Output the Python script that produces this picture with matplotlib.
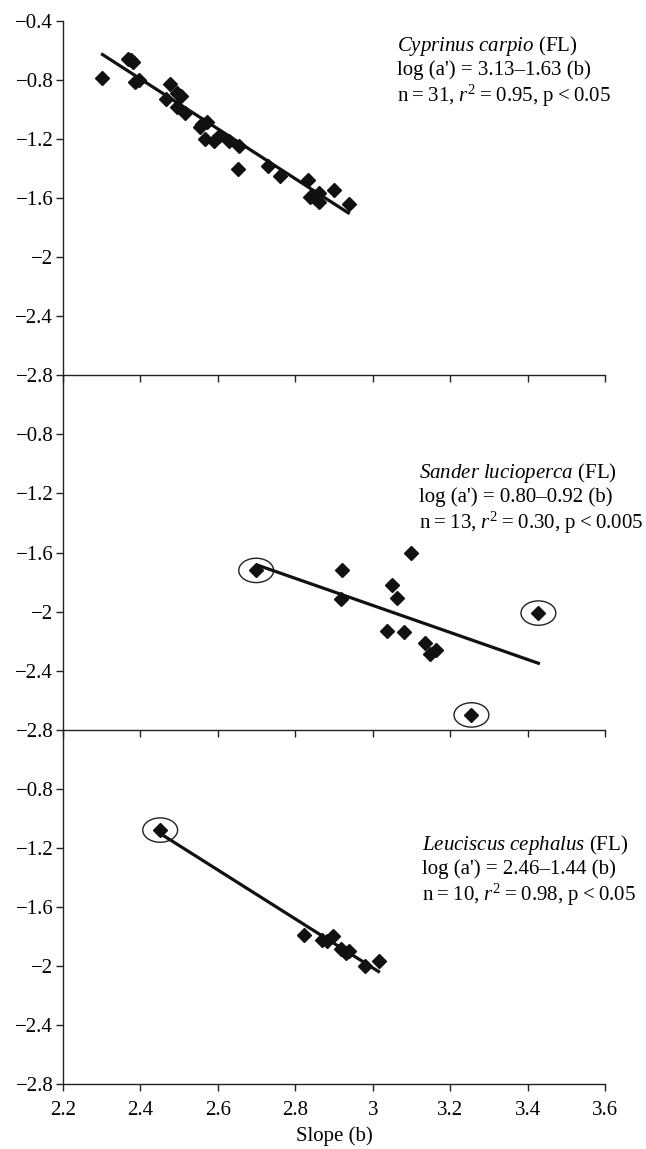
import matplotlib
matplotlib.use('Agg')
import matplotlib.pyplot as plt
from matplotlib.patches import Ellipse

plt.rcParams['font.family'] = ['Liberation Serif', 'DejaVu Serif']
plt.rcParams['mathtext.fontset'] = 'custom'
plt.rcParams['mathtext.rm'] = 'Liberation Serif'
plt.rcParams['mathtext.it'] = 'Liberation Serif:italic'

# Cyprinus carpio
carp_b = [2.302, 2.367, 2.375, 2.381, 2.385, 2.397, 2.467, 2.476, 2.495, 2.504,
          2.495, 2.515, 2.554, 2.560, 2.571, 2.566, 2.590, 2.603, 2.628, 2.654,
          2.652, 2.730, 2.760, 2.834, 2.839, 2.851, 2.860, 2.860, 2.900, 2.939,
          2.845]
carp_a = [-0.786, -0.655, -0.666, -0.677, -0.814, -0.798, -0.927, -0.825, -0.889, -0.905,
          -0.980, -1.025, -1.120, -1.100, -1.086, -1.200, -1.210, -1.180, -1.210, -1.250,
          -1.400, -1.380, -1.450, -1.480, -1.590, -1.600, -1.565, -1.627, -1.545, -1.643,
          -1.585]
carp_fit_b = [2.302, 2.937]
carp_fit_a = [-0.627, -1.700]
carp_circled = []

# Sander lucioperca
zander_b = [2.699, 2.920, 2.917, 3.050, 3.064, 3.100, 3.037, 3.082, 3.136, 3.147,
            3.163, 3.428, 3.255]
zander_a = [-1.721, -1.720, -1.916, -1.820, -1.905, -1.602, -2.130, -2.140, -2.210, -2.290,
            -2.260, -2.010, -2.700]
zander_fit_b = [2.702, 3.428]
zander_fit_a = [-1.685, -2.350]
zander_circled = [0, 11, 12]

# Leuciscus cephalus
chub_b = [2.451, 2.822, 2.868, 2.882, 2.898, 2.918, 2.930, 2.938, 2.980, 3.015]
chub_a = [-1.080, -1.791, -1.823, -1.834, -1.800, -1.886, -1.914, -1.900, -2.000, -1.970]
chub_fit_b = [2.446, 3.015]
chub_fit_a = [-1.095, -2.038]
chub_circled = [0]

labels = [
    [r'$\it{Cyprinus\ carpio}$ (FL)', "log (a') = 3.13–1.63 (b)",
     'n\u2009=\u200931, $r^2$\u2009=\u20090.95, p\u2009<\u20090.05'],
    [r'$\it{Sander\ lucioperca}$ (FL)', "log (a') = 0.80–0.92 (b)",
     'n\u2009=\u200913, $r^2$\u2009=\u20090.30, p\u2009<\u20090.005'],
    [r'$\it{Leuciscus\ cephalus}$ (FL)', "log (a') = 2.46–1.44 (b)",
     'n\u2009=\u200910, $r^2$\u2009=\u20090.98, p\u2009<\u20090.05'],
]
label_pos = [(3.064, -0.745), (3.12, -1.235), (3.127, -1.355)]

xticks = [2.2, 2.4, 2.6, 2.8, 3.0, 3.2, 3.4, 3.6]
xticklabels = ['2.2', '2.4', '2.6', '2.8', '3', '3.2', '3.4', '3.6']

fig = plt.figure(figsize=(6.46, 11.49), dpi=100)

left, width = 63 / 646, 542 / 646
h = 354.3 / 1149
bottoms = [1 - 375.3 / 1149, 1 - 729.7 / 1149, 1 - 1084 / 1149]

panels = [
    (carp_b, carp_a, carp_fit_b, carp_fit_a, carp_circled),
    (zander_b, zander_a, zander_fit_b, zander_fit_a, zander_circled),
    (chub_b, chub_a, chub_fit_b, chub_fit_a, chub_circled),
]

for i, (b, a, fb, fa, circ) in enumerate(panels):
    ax = fig.add_axes([left, bottoms[i], width, h])
    ax.patch.set_alpha(0)
    ax.plot(b, a, 'D', color='#111111', markersize=7, zorder=3, clip_on=False)
    ax.plot(fb, fa, '-', color='#111111', lw=2.3, zorder=2)
    for j in circ:
        ax.add_patch(Ellipse((b[j], a[j]), 0.09, 0.165, fill=False,
                             edgecolor='#222222', lw=1.0))
    ax.set_xlim(2.2, 3.6)
    ax.set_ylim(-2.8, -0.4)
    ax.set_xticks(xticks)
    if i == 0:
        ax.set_yticks([-2.8, -2.4, -2.0, -1.6, -1.2, -0.8, -0.4])
        ax.set_yticklabels(['−2.8', '−2.4', '−2', '−1.6', '−1.2', '−0.8', '−0.4'])
    else:
        ax.set_yticks([-2.8, -2.4, -2.0, -1.6, -1.2, -0.8])
        ax.set_yticklabels(['−2.8', '−2.4', '−2', '−1.6', '−1.2', '−0.8'])
    if i == 2:
        ax.set_xticklabels(xticklabels)
        ax.set_xlabel('Slope (b)', fontsize=15, labelpad=5)
    else:
        ax.set_xticklabels([])
    for s in ['top', 'right']:
        ax.spines[s].set_visible(False)
    for s in ['left', 'bottom']:
        ax.spines[s].set_linewidth(1.0)
        ax.spines[s].set_color('#222222')
    ax.tick_params(direction='out', length=5, width=1.0, color='#222222',
                   labelsize=15, pad=2)
    ax.tick_params(axis='x', pad=7)
    ax.text(label_pos[i][0], label_pos[i][1], '\n'.join(labels[i]),
            fontsize=15, ha='left', va='center', linespacing=1.15)

fig.savefig('out.png', dpi=100)
